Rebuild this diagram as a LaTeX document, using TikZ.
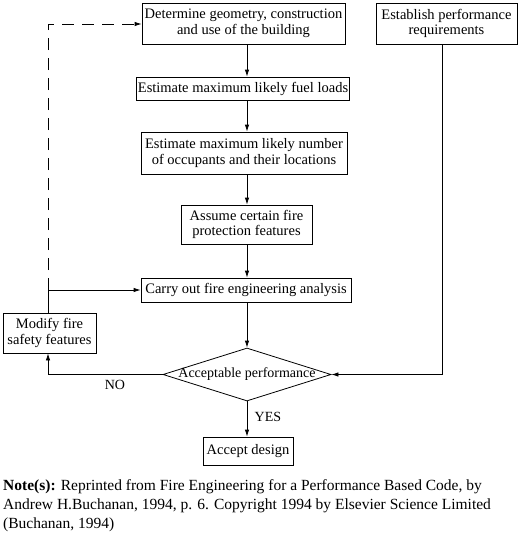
\documentclass[tikz,border=0pt]{standalone}
\usepackage{fontspec}
\setmainfont{Liberation Serif}
\usetikzlibrary{arrows.meta,shapes.geometric}
\begin{document}
\begin{tikzpicture}[x=1pt,y=-1pt,
  box/.style={draw,line width=0.8pt,inner sep=1pt,align=center,font=\fontsize{14.5}{15.5}\selectfont},
  arr/.style={line width=0.8pt,-{Latex[length=7pt,width=4.5pt]}},
  lbl/.style={font=\fontsize{14}{15}\selectfont}]
\useasboundingbox (0,0) rectangle (520,533);
\node[box,minimum width=203pt,minimum height=41pt] (b1) at (243.5,23.5) {Determine geometry, construction\\and use of the building};
\node[box,minimum width=141pt,minimum height=41pt] (est) at (446.5,23.5) {Establish performance\\requirements};
\node[box,minimum width=208pt,minimum height=23pt] (b2) at (243,88.5) {Estimate maximum likely fuel loads};
\node[box,minimum width=206pt,minimum height=42pt] (b3) at (244,153) {Estimate maximum likely number\\of occupants and their locations};
\node[box,minimum width=131pt,minimum height=39pt] (b4) at (246.5,224.5) {Assume certain fire\\protection features};
\node[box,minimum width=210pt,minimum height=24pt] (b5) at (246,290) {Carry out fire engineering analysis};
\node[box,minimum width=93pt,minimum height=40pt] (m) at (49.5,333) {Modify fire\\safety features};
\node[draw,line width=0.8pt,diamond,aspect=3.17,inner sep=0pt,minimum width=168pt,minimum height=53pt] (d) at (247,374.5) {};
\node[lbl] (dt) at (d.center) {Acceptable performance};
\node[box,minimum width=90pt,minimum height=28pt] (acc) at (248,451) {Accept design};
\coordinate (axis) at (247,0);
\coordinate (r) at (442,44);
\coordinate (j) at (48,290);
\coordinate (t) at (48,24);
\draw[arr] (b1.south -| axis) -- (b2.north -| axis);
\draw[arr] (b2.south -| axis) -- (b3.north -| axis);
\draw[arr] (b3.south -| axis) -- (b4.north -| axis);
\draw[arr] (b4.south -| axis) -- (b5.north -| axis);
\draw[arr] (b5.south -| axis) -- (d.north);
\draw[arr] (d.south) -- node[lbl,right=4pt,pos=0.45] {YES} (acc.north -| d.south);
\draw[arr] (d.west) -| (m.south -| j);
\node[lbl] (no) at (115,385) {NO};
\draw[arr] (r) |- (d.east);
\draw[arr] (m.north -| j) -- (j) -- (b5.west);
\draw[arr,dashed,dash pattern=on 12pt off 8pt] (j) -- (t) -- (b1.west |- t);
\node[anchor=north west,align=left,inner sep=0pt,font=\fontsize{15.5}{19}\selectfont] (note) at (3,479)
 {\textbf{Note(s):} Reprinted from Fire Engineering for a Performance Based Code, by\\
 Andrew H.Buchanan, 1994, p. 6. Copyright 1994 by Elsevier Science Limited\\
 (Buchanan, 1994)};
\end{tikzpicture}
\end{document}
